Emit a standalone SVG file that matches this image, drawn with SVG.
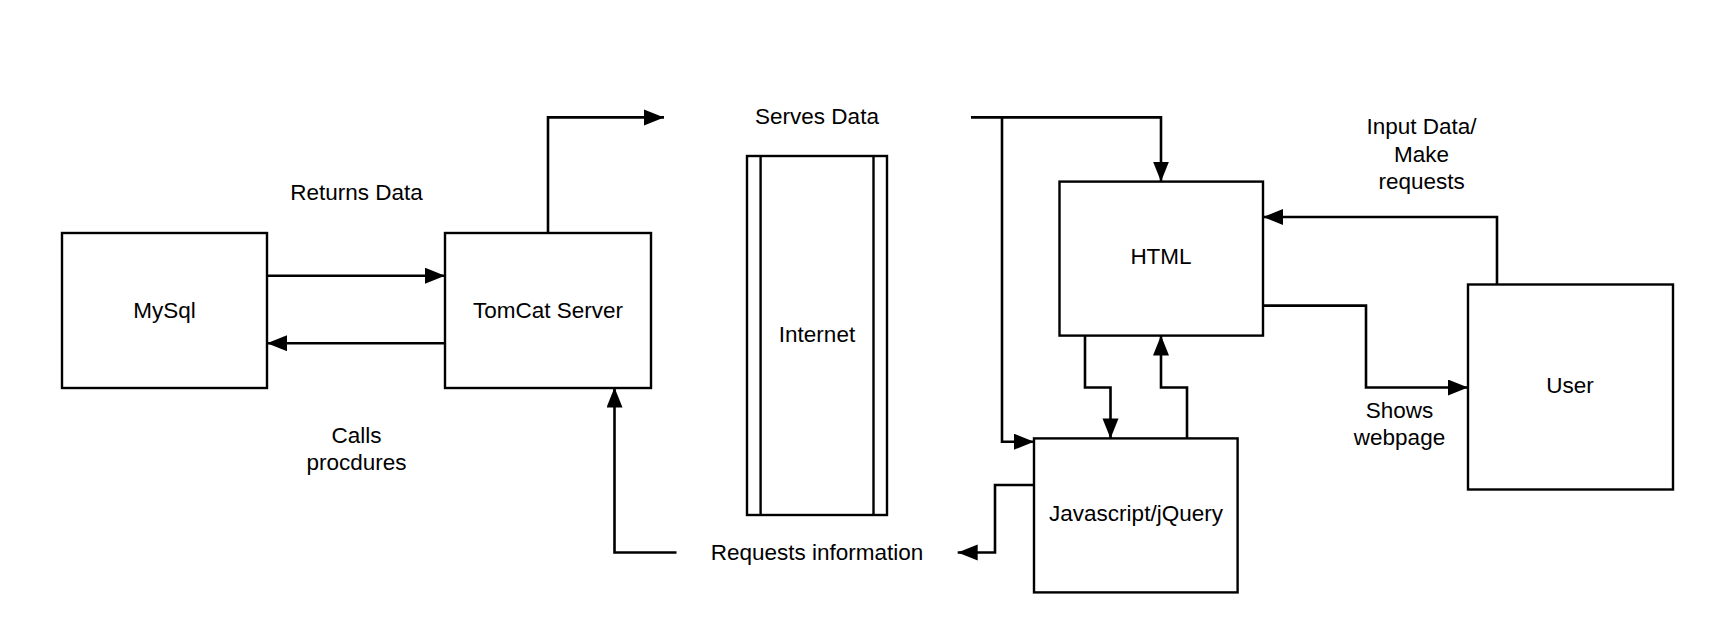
<svg xmlns="http://www.w3.org/2000/svg" width="1736" height="636" viewBox="0 0 1736 636">
<style>
.box{fill:#fff;stroke:#000;stroke-width:2.4}
.ln{fill:none;stroke:#000;stroke-width:2.6}
.arr{marker-end:url(#ah)}
text{font-family:"Liberation Sans",Arial,sans-serif;font-size:22.5px;fill:#000;text-anchor:middle}
</style>
<defs>
<marker id="ah" markerUnits="userSpaceOnUse" markerWidth="22" markerHeight="18" refX="20" refY="8" orient="auto">
<path d="M0,0 L20,8 L0,16 z" fill="#000"/>
</marker>
</defs>
<rect width="1736" height="636" fill="#fff"/>
<g id="connectors">
<path class="ln arr" d="M267,275.7 H445"/>
<path class="ln arr" d="M445,343.2 H267"/>
<path class="ln arr" d="M548,232.5 V117.4 H664"/>
<path class="ln arr" d="M971,117.4 H1161 V181.6"/>
<path class="ln arr" d="M1002,117.4 V441.7 H1034"/>
<path class="ln arr" d="M1085,335.5 V387.5 H1110.5 V438.4"/>
<path class="ln arr" d="M1187,438.4 V387.5 H1161 V335.5"/>
<path class="ln arr" d="M1497,284.5 V217 H1263"/>
<path class="ln arr" d="M1263,305.6 H1366 V387.5 H1468"/>
<path class="ln arr" d="M1034,485 H995 V552.5 H957.7"/>
<path class="ln arr" d="M676.5,552.5 H614.5 V387.5"/>
</g>
<g id="mysql">
<rect class="box" x="62" y="233" width="205" height="155"/>
<text x="164.5" y="317.5">MySql</text>
</g>
<g id="tomcat">
<rect class="box" x="445" y="233" width="206" height="155"/>
<text x="548" y="317.5">TomCat Server</text>
</g>
<g id="internet">
<rect class="box" x="747" y="156" width="140" height="359"/>
<line class="box" x1="760.6" y1="156" x2="760.6" y2="515"/>
<line class="box" x1="873.5" y1="156" x2="873.5" y2="515"/>
<text x="817" y="341.5">Internet</text>
</g>
<g id="html">
<rect class="box" x="1059.5" y="181.6" width="203.5" height="154"/>
<text x="1161" y="264">HTML</text>
</g>
<g id="javascript">
<rect class="box" x="1034" y="438.4" width="203.6" height="154"/>
<text x="1136" y="520.5">Javascript/jQuery</text>
</g>
<g id="user">
<rect class="box" x="1468" y="284.5" width="205" height="205"/>
<text x="1570" y="392.5">User</text>
</g>
<g id="labels">
<text x="356.5" y="199.5">Returns Data</text>
<text x="356.5" y="442.5">Calls</text>
<text x="356.5" y="470">procdures</text>
<text x="817" y="123.5">Serves Data</text>
<text x="817" y="559.5">Requests information</text>
<text x="1421.6" y="133.5">Input Data/</text>
<text x="1421.6" y="161.5">Make</text>
<text x="1421.6" y="189">requests</text>
<text x="1399.5" y="417.5">Shows</text>
<text x="1399.5" y="445">webpage</text>
</g>
</svg>
